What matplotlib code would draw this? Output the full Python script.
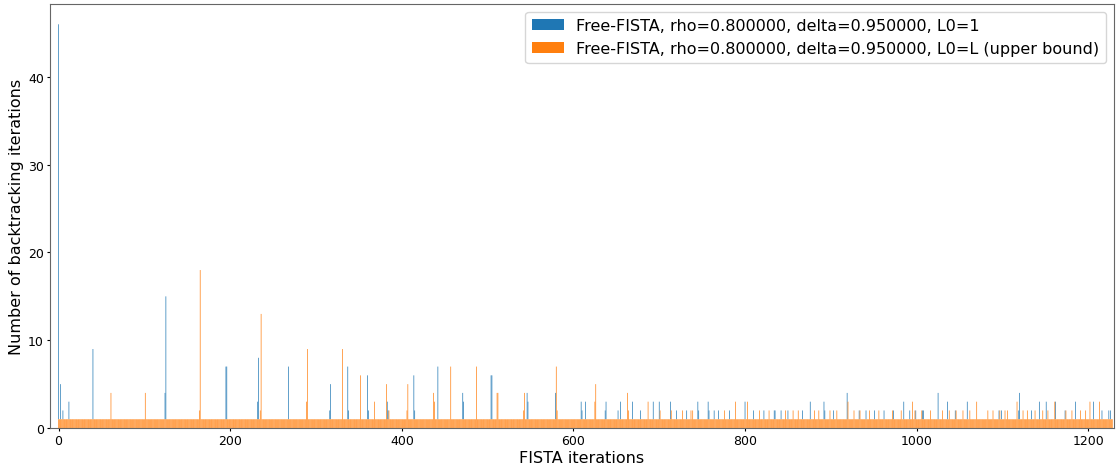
import numpy as np
from matplotlib import pyplot as plt

# number of FISTA iterations shown
n_iter = 1229

# most iterations need a single backtracking step; the spikes are listed below
base_val = 1

blue_idx = [0, 2, 5, 12, 40, 124, 125, 195, 196, 232, 233, 268, 316, 317, 337, 338,
            360, 361, 383, 384, 414, 415, 442, 471, 472, 504, 505, 546, 547, 579,
            609, 610, 614, 637, 638, 652, 655, 669, 678, 693, 700, 713, 720, 732,
            745, 746, 757, 758, 764, 769, 782, 800, 810, 822, 834, 835, 842, 850,
            867, 876, 892, 893, 903, 919, 933, 941, 951, 962, 973, 985, 992, 999,
            1007, 1008, 1025, 1036, 1045, 1059, 1096, 1099, 1119, 1120, 1134, 1143,
            1151, 1162, 1173, 1185, 1206, 1216, 1224, 1226]
blue_val = [46, 5, 2, 3, 9, 4, 15, 7, 7, 3, 8, 7, 2, 5, 7, 2,
            6, 2, 3, 2, 6, 2, 7, 4, 3, 6, 6, 4, 3, 4,
            3, 2, 3, 2, 3, 2, 3, 3, 2, 3, 3, 3, 2, 2,
            3, 2, 3, 2, 2, 2, 2, 3, 2, 2, 2, 2, 2, 2,
            2, 3, 3, 2, 2, 4, 2, 2, 2, 2, 2, 3, 2, 2,
            2, 2, 4, 3, 2, 3, 2, 2, 2, 4, 2, 3,
            3, 3, 2, 3, 3, 2, 2, 2]

orange_idx = [61, 101, 164, 165, 235, 236, 289, 290, 331, 352, 368, 382, 385, 406,
              407, 437, 438, 457, 487, 511, 512, 542, 543, 580, 581, 625, 626, 663,
              664, 687, 701, 714, 727, 737, 739, 776, 789, 803, 817, 828, 847, 856,
              862, 881, 886, 899, 907, 920, 927, 934, 945, 956, 972, 982, 995, 998,
              1006, 1016, 1030, 1038, 1046, 1054, 1062, 1070, 1083, 1089, 1097, 1103,
              1106, 1117, 1124, 1129, 1138, 1147, 1153, 1161, 1174, 1181, 1191, 1197,
              1202, 1213]
orange_val = [4, 4, 2, 18, 2, 13, 3, 9, 9, 6, 3, 5, 2, 2,
              5, 4, 3, 7, 7, 4, 4, 2, 4, 7, 2, 3, 5, 4,
              2, 3, 2, 2, 2, 2, 2, 2, 3, 3, 2, 2, 2, 2,
              2, 2, 2, 2, 2, 3, 2, 2, 2, 2, 2, 2, 3, 2,
              2, 2, 2, 2, 2, 2, 2, 3, 2, 2, 2, 2,
              2, 3, 2, 2, 2, 2, 2, 3, 2, 2, 2, 2,
              3, 3]

labels = ['Free-FISTA, rho=0.800000, delta=0.950000, L0=1',
          'Free-FISTA, rho=0.800000, delta=0.950000, L0=L (upper bound)']

iters = np.arange(n_iter)
blue = np.full(n_iter, base_val)
blue[blue_idx] = blue_val
orange = np.full(n_iter, base_val)
orange[orange_idx] = orange_val

fig = plt.figure(figsize=(11.17, 4.64), dpi=100)
ax = fig.add_axes([0.0448, 0.0754, 0.9525, 0.9136])

# snap=False so thin bars are antialiased instead of being dropped.
# the blue part under the common baseline is hidden by orange anyway, start it at 1
# so it does not bleed through the antialiased orange edges
ax.bar(iters, blue - base_val, bottom=base_val, color='tab:blue', label=labels[0],
       linewidth=0, snap=False)
ax.bar(iters, orange, color='tab:orange', label=labels[1], linewidth=0, snap=False)

ax.set_xlim(-10, 1230)
ax.set_xlabel('FISTA iterations', fontsize=11.5, labelpad=2)
ax.set_ylabel('Number of backtracking iterations', fontsize=11.5, labelpad=3)
ax.tick_params(labelsize=9, length=2.5, pad=2)
for s in ax.spines.values():
    s.set_color('#666666')
ax.legend(fontsize=11.5, loc='upper right')

plt.savefig('out.png', dpi=100)
